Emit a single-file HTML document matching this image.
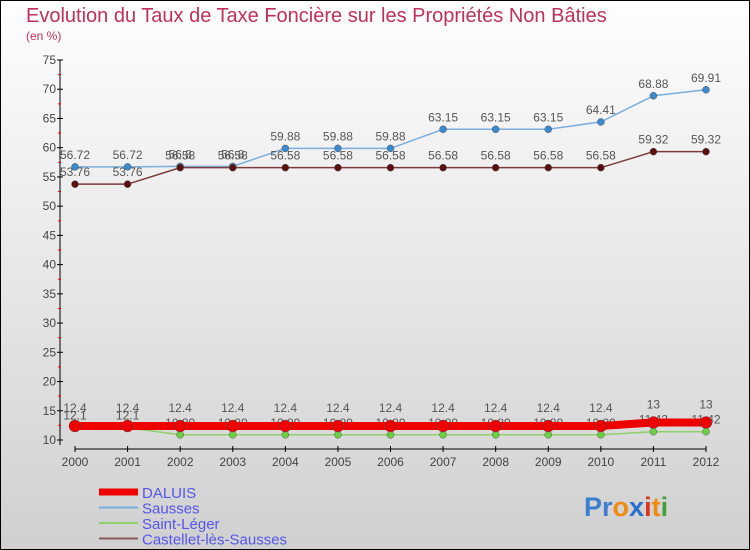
<!DOCTYPE html>
<html><head><meta charset="utf-8"><style>
body{margin:0;width:750px;height:550px;overflow:hidden;font-family:"Liberation Sans",sans-serif}
svg{display:block}
</style></head><body>
<svg id="c" width="750" height="550">
<defs><linearGradient id="bg" x1="0" y1="0" x2="0" y2="1"><stop offset="0" stop-color="#fefefe"/><stop offset="1" stop-color="#d0d0d0"/></linearGradient></defs>
<rect x="0.5" y="0.5" width="749" height="549" fill="url(#bg)" stroke="#000"/>
<text x="26" y="22" font-size="20" fill="#c0305a">Evolution du Taux de Taxe Foncière sur les Propriétés Non Bâties</text>
<text x="26" y="40" font-size="12" fill="#c0305a">(en %)</text>
<g id="axes"></g><g id="series"></g><g id="legend"></g>
<text x="584" y="516" font-size="27" font-weight="bold"><tspan fill="#3a7fd0">Pr</tspan><tspan fill="#f08a10">o</tspan><tspan fill="#2a6fd0">x</tspan><tspan fill="#e03020">i</tspan><tspan fill="#f08a10">t</tspan><tspan fill="#40a040">i</tspan></text>
</svg>
<script>
const years=[2000,2001,2002,2003,2004,2005,2006,2007,2008,2009,2010,2011,2012];
const yTicks=[10,15,20,25,30,35,40,45,50,55,60,65,70,75];
const daluis=[12.4,12.4,12.4,12.4,12.4,12.4,12.4,12.4,12.4,12.4,12.4,13,13];
const sausses=[56.72,56.72,56.8,56.8,59.88,59.88,59.88,63.15,63.15,63.15,64.41,68.88,69.91];
const saintLeger=[12.1,12.1,10.89,10.89,10.89,10.89,10.89,10.89,10.89,10.89,10.89,11.42,11.42];
const castellet=[53.76,53.76,56.58,56.58,56.58,56.58,56.58,56.58,56.58,56.58,56.58,59.32,59.32];
const seriesNames=["DALUIS","Sausses","Saint-Léger","Castellet-lès-Sausses"];
const NS="http://www.w3.org/2000/svg";
const X=i=>75+i*(706-75)/(years.length-1);
const Y=v=>440-(v-10)*(380/65);
function mk(t,a,p){const e=document.createElementNS(NS,t);for(const k in a)e.setAttribute(k,a[k]);p.appendChild(e);return e;}
const ax=document.getElementById('axes');
const yl=mk('line',{x1:60,y1:60,x2:60,y2:445,stroke:'#000'},ax);


yTicks.forEach(v=>{
 mk('line',{x1:57,x2:63,y1:Y(v),y2:Y(v),stroke:'#000'},ax);
 if(v<75) mk('line',{x1:58,x2:61,y1:Y(v+2.5),y2:Y(v+2.5),stroke:'#f00'},ax);
 const t=mk('text',{x:56,y:Y(v)+4,'font-size':12,'text-anchor':'end',fill:'#444'},ax);t.textContent=v;
 
 
});
const xl=mk('line',{x1:75,y1:449,x2:706,y2:449,stroke:'#000'},ax);


years.forEach((yr,i)=>{
 mk('line',{x1:X(i),x2:X(i),y1:446,y2:452,stroke:'#000'},ax);
 const t=mk('text',{x:X(i),y:466,'font-size':12,'text-anchor':'middle',fill:'#444'},ax);t.textContent=yr;
 
 
});
const sg=document.getElementById('series');
function draw(data,color,w,r,fill,name,lblDy){
 const g=mk('g',{},sg);
 
 
 mk('polyline',{points:data.map((v,i)=>X(i)+','+Y(v)).join(' '),fill:'none',stroke:color,'stroke-width':w},g);
 data.forEach((v,i)=>{
  const c=mk('circle',{cx:X(i),cy:Y(v),r:r,fill:fill,stroke:'#555','stroke-width':0.5},g);
  
  
  const t=mk('text',{x:X(i),y:Y(v)+lblDy,'font-size':12,'text-anchor':'middle',fill:'#555'},g);
  t.textContent=v;
  
  
 });
}
draw(sausses,'#7aaedc',1.5,3.5,'#3a8ad0','sausses',-8);
draw(castellet,'#7a3a3a',1.5,3.5,'#5a1010','castellet',-8);
draw(saintLeger,'#8ed06a',1.5,3.5,'#6ad040','saint-leger',-8);
draw(daluis,'#ee0000',8,6,'#ee0000','daluis',-14);
const lg=document.getElementById('legend');
const lc=['#ee0000','#7aaedc','#8ed06a','#8a5a5a'],lw=[7,2,2,2];
seriesNames.forEach((n,i)=>{
 const y=492+i*15.5;
 mk('line',{x1:99,x2:138,y1:y,y2:y,stroke:lc[i],'stroke-width':lw[i]},lg);
 const t=mk('text',{x:142,y:y+6,'font-size':15,fill:'#5555ee'},lg);t.textContent=n;
 
 
});
</script>
</body></html>
